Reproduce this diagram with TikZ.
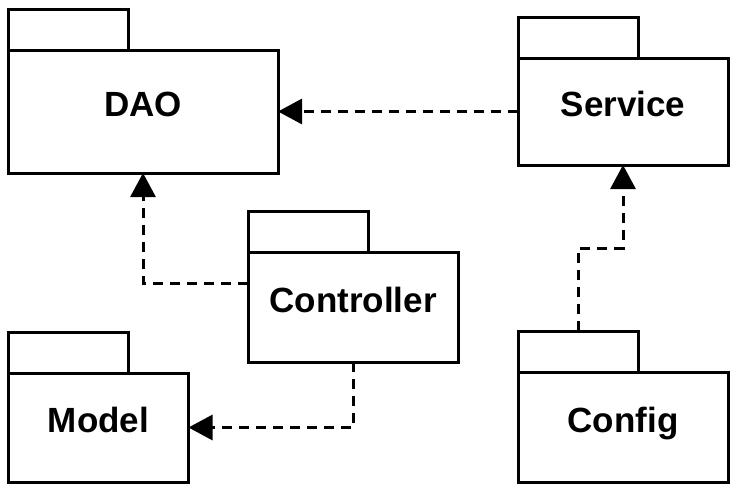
\documentclass[tikz,border=0pt]{standalone}
\usepackage{fontspec}
\setmainfont{Liberation Sans}
\usetikzlibrary{arrows.meta,calc}
\begin{document}
\begin{tikzpicture}[x=1pt, y=-1pt, line width=3pt,
        pkg/.style={draw, rectangle, fill=white, outer sep=0pt, font=\fontsize{35}{40}\selectfont\bfseries, text height=25pt, text depth=15pt},
        tab/.style={draw, rectangle, outer sep=0pt, minimum width=120pt, minimum height=41pt, anchor=south west},
        dep/.style={dash pattern=on 10pt off 7pt, -{Triangle[length=24pt, width=25pt]}}]
            \useasboundingbox (0, 0) rectangle (738, 490);

            \node[pkg, minimum width=270pt, minimum height=123pt] (dao) at (143, 111.5) {DAO};
            \node[pkg, minimum width=210pt, minimum height=107pt] (svc) at (623, 111.5) {Service};
            \node[pkg, minimum width=210pt, minimum height=110pt] (ctrl) at (353, 307) {Controller};
            \node[pkg, minimum width=180pt, minimum height=109pt] (model) at (98.5, 427.5) {Model};
            \node[pkg, minimum width=210pt, minimum height=110pt] (cfg) at (623, 427) {Config};

            \node[tab] (daotab) at (dao.north west) {};
            \node[tab] (svctab) at (svc.north west) {};
            \node[tab] (ctrltab) at (ctrl.north west) {};
            \node[tab] (modeltab) at (model.north west) {};
            \node[tab] (cfgtab) at (cfg.north west) {};

            \draw[dep] (svc.west) -- (dao.east);
            \draw[dep] ([yshift=24pt]ctrl.west) -| (dao.south);
            \draw[dep] (ctrl.south) |- (model.east);
            \draw[dep] (cfgtab.north) |- ($(svc.south)!0.5!(cfgtab.north)$) -| (svc.south);
        \end{tikzpicture}
\end{document}
